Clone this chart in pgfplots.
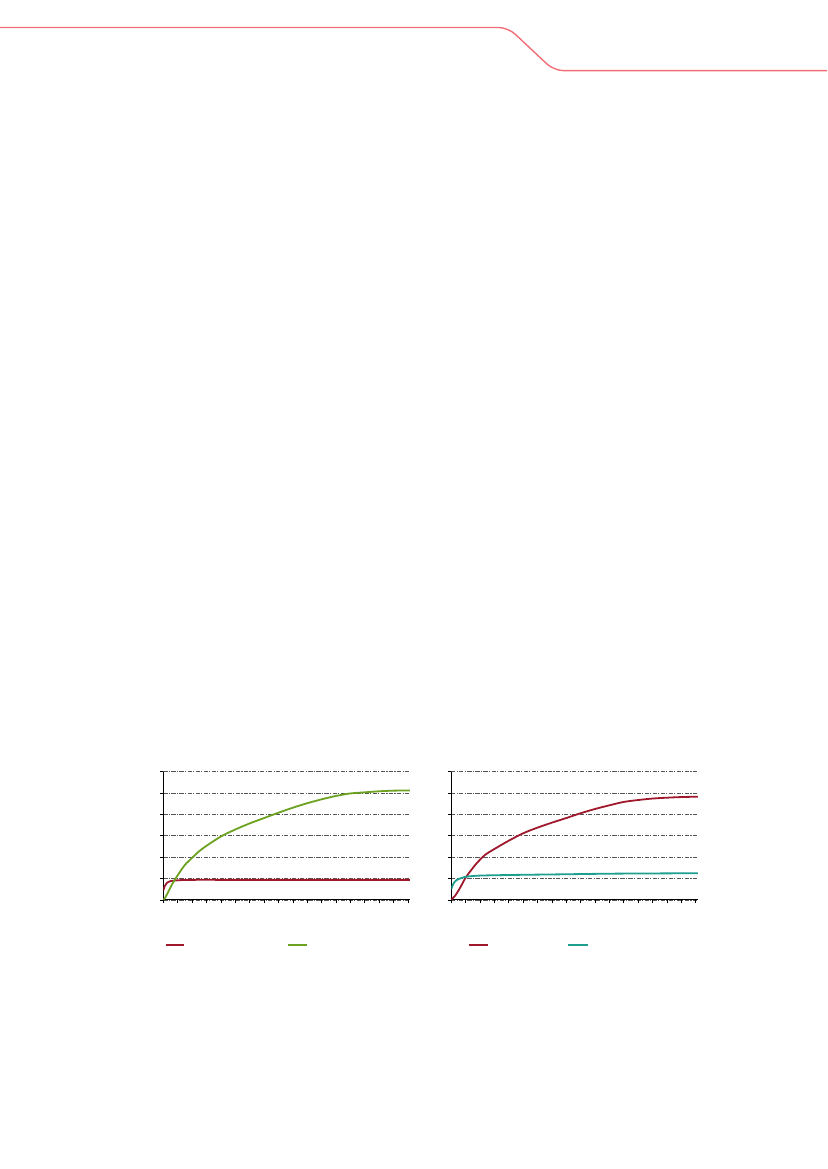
\documentclass[border=0pt]{standalone}
\usepackage{pgfplots}
\pgfplotsset{compat=1.18}

\definecolor{hdr}{RGB}{240,110,120}
\definecolor{cgreen}{RGB}{108,162,32}
\definecolor{cred}{RGB}{160,24,44}
\definecolor{cteal}{RGB}{30,158,142}
\definecolor{cgrid}{RGB}{85,85,85}

\pgfplotsset{
  minichart/.style={
    scale only axis, width=177.5pt, height=92.4pt,
    anchor=south west,
    axis x line=bottom, axis y line=left,
    axis line style={-, black, line width=0.7pt},
    xmin=0, ymin=0, ymax=6,
    xtick={0,...,17}, ytick={0,...,6},
    xticklabels={}, yticklabels={},
    tick align=outside, major tick length=2.4pt,
    tick style={black, line width=0.5pt},
    ymajorgrids,
    grid style={cgrid, line width=0.6pt, dash pattern=on 3pt off 1pt on 0.8pt off 1pt},
    every axis plot/.append style={line width=1.3pt, smooth, no marks},
  }
}

\begin{document}
\begin{tikzpicture}
\useasboundingbox (0,0) rectangle (595.44pt,841.68pt);

% header rule
\draw[hdr, line width=1pt, rounded corners=7pt]
  (0,821.9pt) -- (365.8pt,821.9pt) -- (398.9pt,790.8pt) -- (595.44pt,790.8pt);

% left chart
\begin{axis}[minichart, at={(117.6pt,193.7pt)}, xmax=17.13]
\addplot[cred] coordinates {
  (0,0.45) (0.1,0.65) (0.25,0.8) (0.5,0.88) (1,0.92) (2,0.94) (5,0.94) (10,0.94) (17.13,0.94)
};
\addplot[cgreen] coordinates {
  (0,0.02) (0.12,0.1) (0.35,0.39) (0.58,0.7) (0.86,1.01) (1.16,1.32) (1.5,1.64)
  (1.97,1.95) (2.66,2.37) (3.98,2.96) (5.02,3.3) (6.0,3.58) (7.0,3.83) (8.0,4.08)
  (8.98,4.31) (9.98,4.52) (10.97,4.7) (11.97,4.86) (12.99,4.98) (13.96,5.03)
  (14.98,5.08) (15.97,5.11) (17.13,5.12)
};
\end{axis}

% right chart
\begin{axis}[minichart, at={(324.9pt,193.7pt)}, xmax=17.15]
\addplot[cred] coordinates {
  (0,0.02) (0.26,0.19) (0.6,0.55) (0.97,1.01) (1.3,1.32) (1.76,1.71) (2.34,2.1)
  (2.97,2.37) (3.97,2.76) (5.01,3.12) (5.99,3.38) (6.98,3.61) (8.0,3.83)
  (8.98,4.05) (9.98,4.25) (10.97,4.42) (11.97,4.58) (12.97,4.67) (13.97,4.74)
  (14.96,4.78) (15.96,4.81) (17.15,4.83)
};
\addplot[cteal] coordinates {
  (0,0.5) (0.14,0.75) (0.37,0.93) (0.72,1.03) (1.07,1.09) (2,1.14) (4.3,1.17)
  (7.8,1.2) (11.3,1.23) (17.15,1.25)
};
\end{axis}

% legend samples
\draw[cred, line width=1pt] (119.3pt,161.3pt) -- (132.7pt,161.3pt);
\draw[cgreen, line width=1pt] (207.4pt,161.3pt) -- (221.0pt,161.3pt);
\draw[cred, line width=1pt] (337.9pt,161.3pt) -- (351.1pt,161.3pt);
\draw[cteal, line width=1pt] (409.2pt,161.3pt) -- (423.1pt,161.3pt);
\end{tikzpicture}
\end{document}
